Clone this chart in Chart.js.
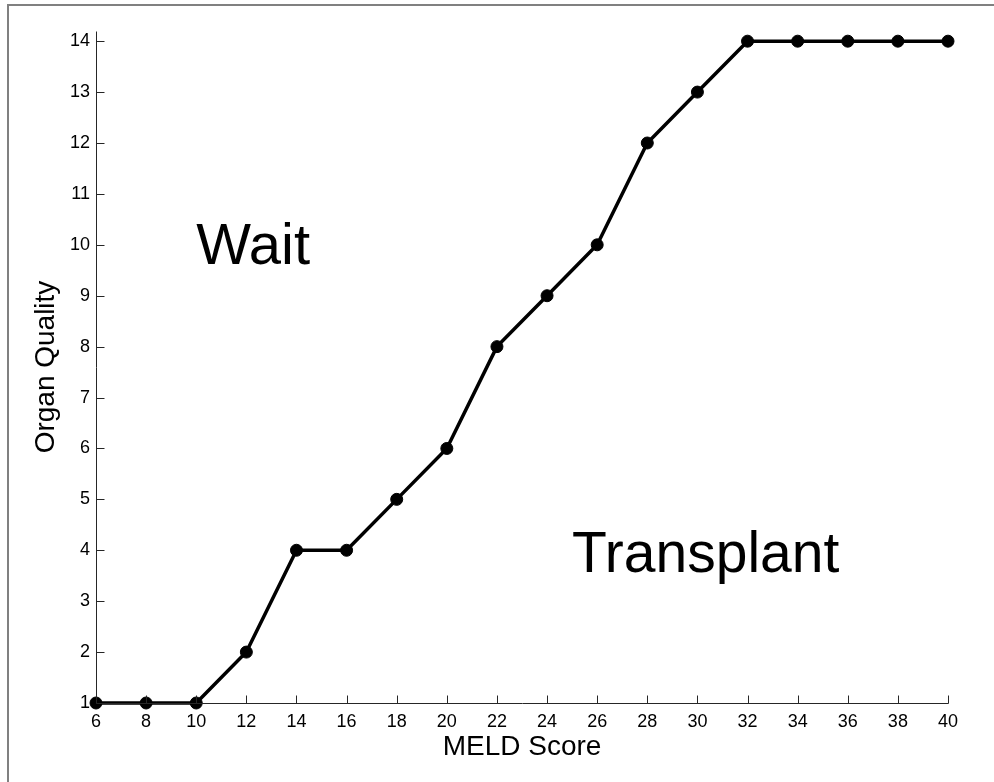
<!DOCTYPE html>
<html>
<head>
<meta charset="utf-8">
<script src="https://cdn.jsdelivr.net/npm/chart.js@4/dist/chart.umd.min.js"></script>
<style>
  html, body { margin: 0; padding: 0; background: #fff; }
  #wrap { position: relative; width: 994px; height: 782px; }
</style>
</head>
<body>
<div id="wrap"><canvas id="chart" width="994" height="782"></canvas></div>
<script>
// MELD score thresholds vs. organ quality
const meldScores = [6, 8, 10, 12, 14, 16, 18, 20, 22, 24, 26, 28, 30, 32, 34, 36, 38, 40];
const organQuality = [1, 1, 1, 2, 4, 4, 5, 6, 8, 9, 10, 12, 13, 14, 14, 14, 14, 14];

const xTickValues = [6, 8, 10, 12, 14, 16, 18, 20, 22, 24, 26, 28, 30, 32, 34, 36, 38, 40];
const yTickValues = [1, 2, 3, 4, 5, 6, 7, 8, 9, 10, 11, 12, 13, 14];

// Region captions, anchored in data units (left edge, baseline)
const regionLabels = ['Wait', 'Transplant'];
const regionAtMeld = [10, 25];
const regionAtQuality = [9.62, 3.57];
const regionFontPx = [58, 57];

const FONT = "'Liberation Sans', Arial, Helvetica, sans-serif";
const TICK_LEN = 8;
const AXIS_COLOR = '#262626';

const decorations = {
  id: 'decorations',
  beforeDraw(chart) {
    const ctx = chart.ctx;
    ctx.save();
    ctx.fillStyle = '#808080';
    ctx.fillRect(7, 4, chart.width - 7, 2);
    ctx.fillRect(7, 4, 2, chart.height - 4);
    ctx.restore();
  },
  afterDatasetsDraw(chart) {
    const ctx = chart.ctx;
    const xs = chart.scales.x, ys = chart.scales.y;
    const x0 = Math.round(xs.getPixelForValue(xs.min)) + 0.5;
    const x1 = Math.round(xs.getPixelForValue(xs.max)) + 0.5;
    const y0 = Math.round(ys.getPixelForValue(ys.min)) + 0.5;
    const y1 = Math.round(ys.getPixelForValue(ys.max)) + 0.5;
    ctx.save();
    ctx.strokeStyle = AXIS_COLOR;
    ctx.lineWidth = 1;
    ctx.beginPath();
    // axis lines
    ctx.moveTo(x0, y1); ctx.lineTo(x0, y0);
    ctx.moveTo(x0, y0); ctx.lineTo(x1, y0);
    // inward tick marks
    xs.ticks.forEach(t => {
      const px = Math.round(xs.getPixelForValue(t.value)) + 0.5;
      ctx.moveTo(px, y0);
      ctx.lineTo(px, y0 - TICK_LEN);
    });
    ys.ticks.forEach(t => {
      const py = Math.round(ys.getPixelForValue(t.value)) + 0.5;
      ctx.moveTo(x0, py);
      ctx.lineTo(x0 + TICK_LEN, py);
    });
    ctx.stroke();

    ctx.fillStyle = '#000';
    ctx.textAlign = 'left';
    ctx.textBaseline = 'alphabetic';
    regionLabels.forEach((txt, i) => {
      ctx.font = regionFontPx[i] + 'px ' + FONT;
      ctx.fillText(txt, xs.getPixelForValue(regionAtMeld[i]), ys.getPixelForValue(regionAtQuality[i]));
    });
    ctx.restore();
  }
};

new Chart(document.getElementById('chart'), {
  type: 'line',
  data: {
    datasets: [{
      data: meldScores.map((m, i) => ({ x: m, y: organQuality[i] })),
      borderColor: '#000',
      borderWidth: 3.5,
      backgroundColor: '#000',
      pointBackgroundColor: '#000',
      pointBorderColor: '#000',
      pointBorderWidth: 1,
      pointRadius: 6,
      tension: 0,
      fill: false,
      clip: false
    }]
  },
  options: {
    responsive: false,
    animation: false,
    events: [],
    layout: { padding: { left: 0, top: 31, right: 46, bottom: 0 } },
    plugins: { legend: { display: false }, tooltip: { enabled: false } },
    scales: {
      x: {
        type: 'linear',
        min: 6,
        max: 40,
        afterBuildTicks: s => { s.ticks = xTickValues.map(v => ({ value: v })); },
        afterFit: s => { s.height = 79; },
        grid: { display: false, drawTicks: false },
        border: { display: false },
        ticks: {
          autoSkip: false, maxRotation: 0, padding: 8,
          color: '#000', font: { family: FONT, size: 18 }
        },
        title: {
          display: true, text: 'MELD Score', color: '#000',
          font: { family: FONT, size: 28 }, padding: { top: 0, bottom: 18 }
        }
      },
      y: {
        type: 'linear',
        min: 1,
        max: 14.2,
        afterBuildTicks: s => { s.ticks = yTickValues.map(v => ({ value: v })); },
        afterFit: s => { s.width = 96; },
        grid: { display: false, drawTicks: false },
        border: { display: false },
        ticks: {
          autoSkip: false, padding: 6,
          color: '#000', font: { family: FONT, size: 18 }
        },
        title: {
          display: true, text: 'Organ Quality', color: '#000',
          font: { family: FONT, size: 28 }, padding: { top: 29, bottom: 0 }
        }
      }
    }
  },
  plugins: [decorations]
});
</script>
</body>
</html>
